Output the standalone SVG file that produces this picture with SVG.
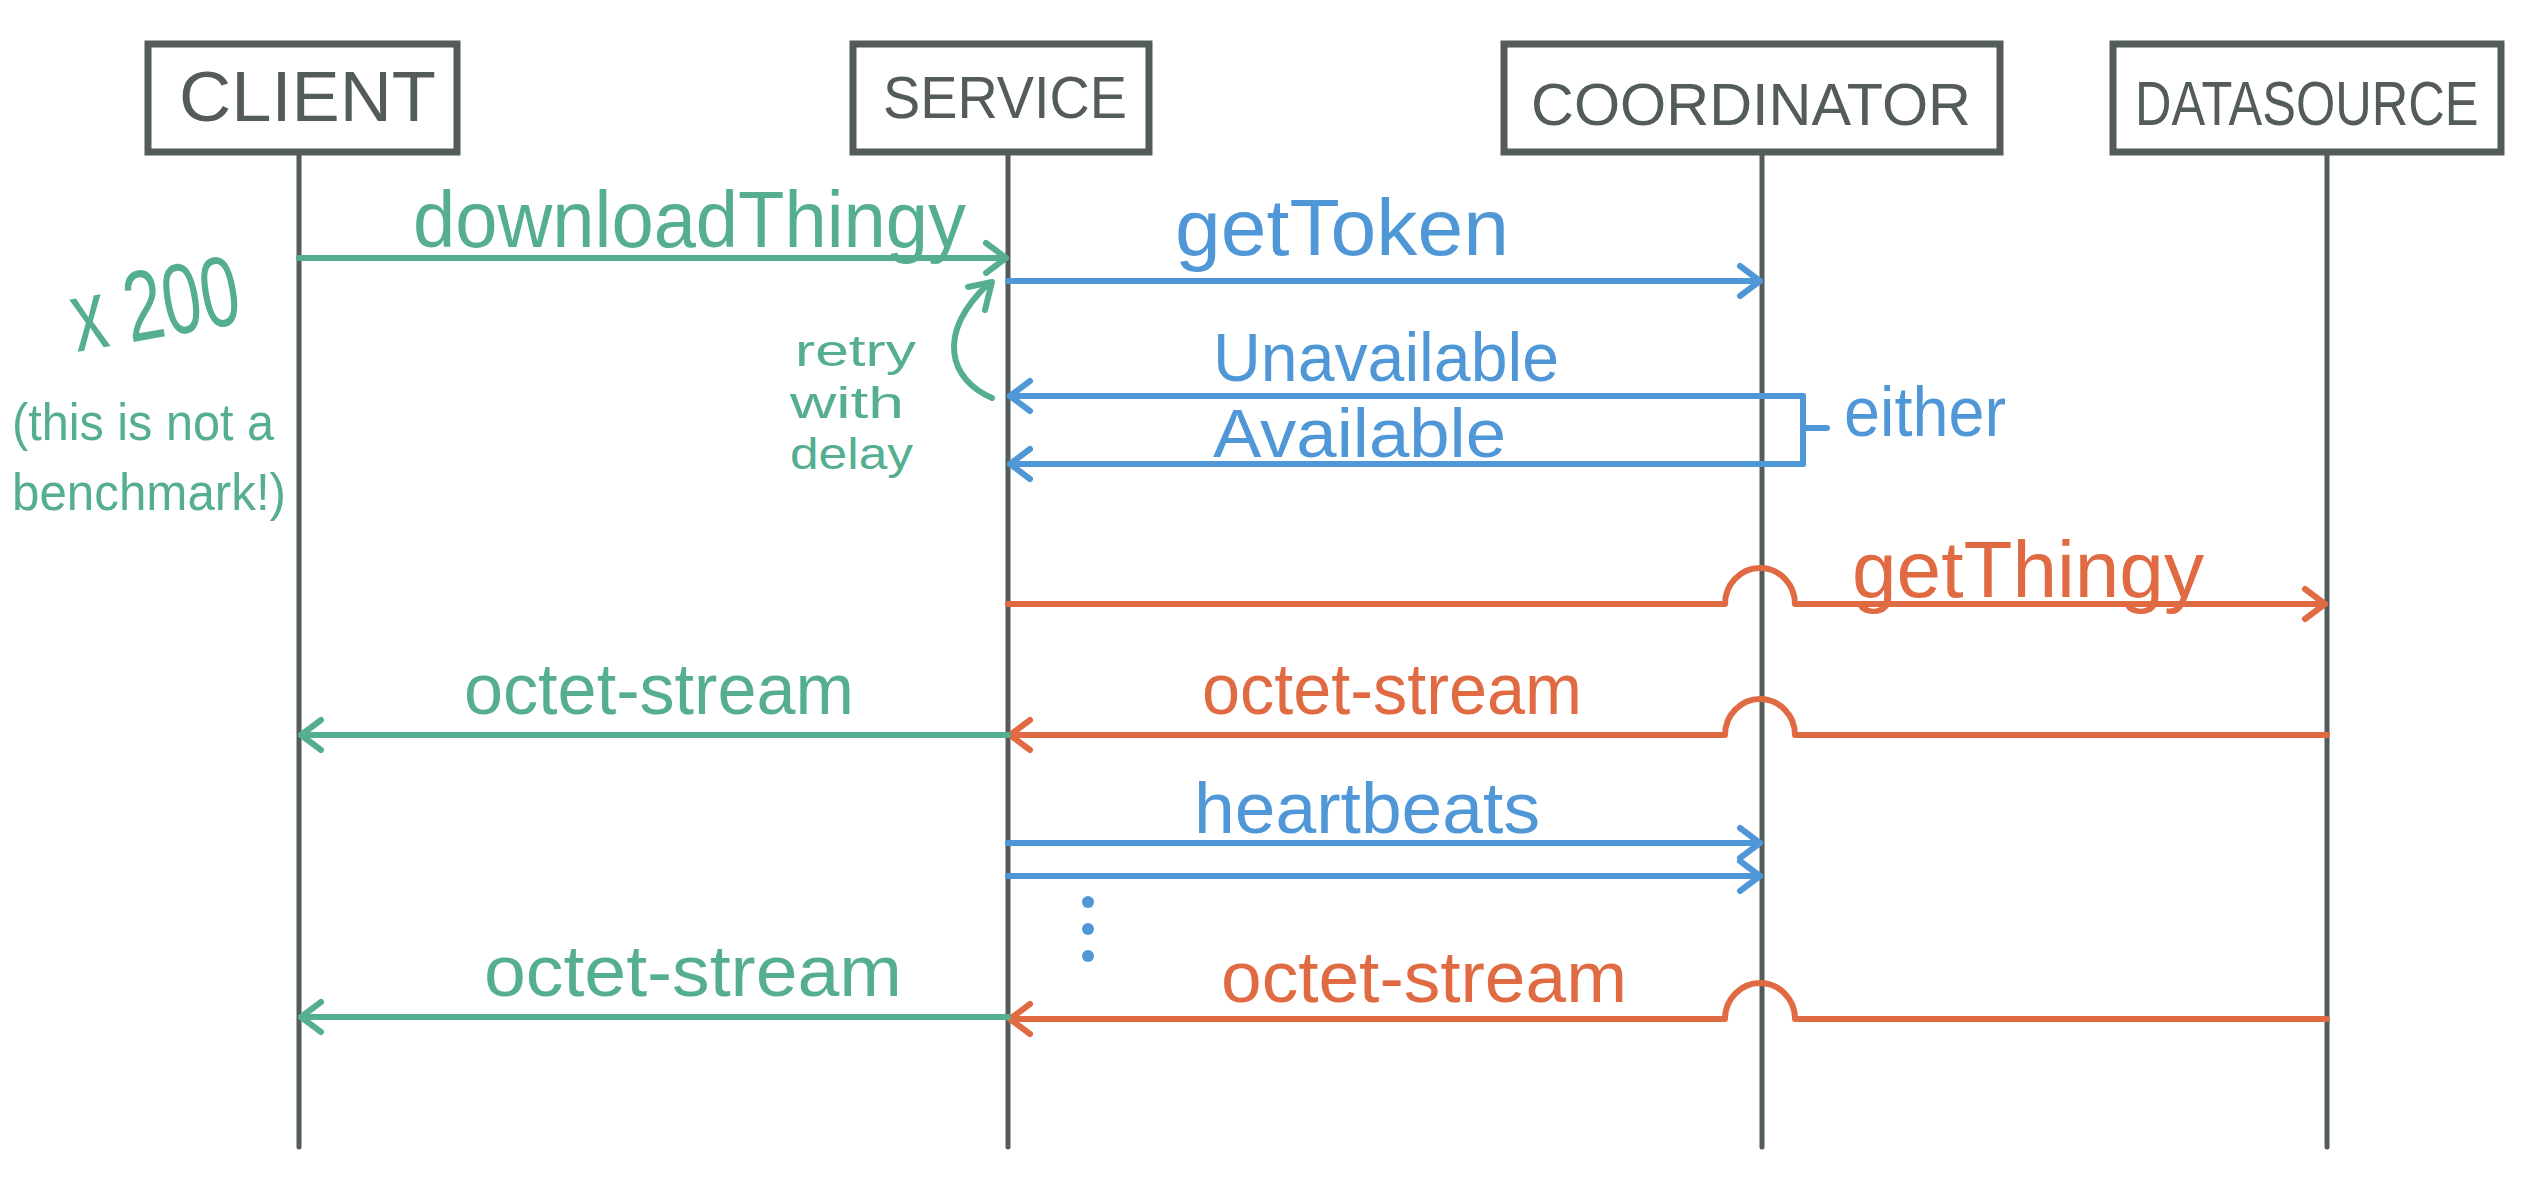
<svg xmlns="http://www.w3.org/2000/svg" width="2530" height="1180" viewBox="0 0 2530 1180">
<style>
.box{fill:#fff;stroke:#535b5b;stroke-width:7}
.life{stroke:#535b5b;stroke-width:5;fill:none;stroke-linecap:round}
.title{font-family:"Liberation Sans",sans-serif;fill:#535b5b}
.lbl{font-family:"Liberation Sans",sans-serif}
.g{fill:#55ae90}
.b{fill:#4f97d7}
.o{fill:#e06a42}
.cg{stroke:#55ae90;stroke-width:6;fill:none;stroke-linecap:round;stroke-linejoin:round}
.cb{stroke:#4f97d7;stroke-width:6;fill:none;stroke-linecap:round;stroke-linejoin:round}
.co{stroke:#e06a42;stroke-width:6;fill:none;stroke-linecap:round;stroke-linejoin:round}
</style>
<defs>
<marker id="ag" markerUnits="userSpaceOnUse" markerWidth="40" markerHeight="40" viewBox="-25 -20 30 40" refX="0" refY="0" orient="auto"><path d="M-20,-15 L0,0 L-20,15" fill="none" stroke="#55ae90" stroke-width="6" stroke-linecap="round" stroke-linejoin="round"/></marker>
<marker id="ab" markerUnits="userSpaceOnUse" markerWidth="40" markerHeight="40" viewBox="-25 -20 30 40" refX="0" refY="0" orient="auto"><path d="M-20,-15 L0,0 L-20,15" fill="none" stroke="#4f97d7" stroke-width="6" stroke-linecap="round" stroke-linejoin="round"/></marker>
<marker id="ao" markerUnits="userSpaceOnUse" markerWidth="40" markerHeight="40" viewBox="-25 -20 30 40" refX="0" refY="0" orient="auto"><path d="M-20,-15 L0,0 L-20,15" fill="none" stroke="#e06a42" stroke-width="6" stroke-linecap="round" stroke-linejoin="round"/></marker>
</defs>
<rect width="2530" height="1180" fill="#fff"/>

<g id="node-client">
<line class="life" x1="299" y1="155" x2="299" y2="1147"/>
<rect class="box" x="148" y="44" width="309" height="108"/>
<text class="title" x="179" y="121" font-size="70" textLength="257" lengthAdjust="spacingAndGlyphs">CLIENT</text>
</g>
<g id="node-service">
<line class="life" x1="1008" y1="155" x2="1008" y2="1147"/>
<rect class="box" x="853" y="44" width="296" height="108"/>
<text class="title" x="883" y="118" font-size="60" textLength="244" lengthAdjust="spacingAndGlyphs">SERVICE</text>
</g>
<g id="node-coordinator">
<line class="life" x1="1762" y1="155" x2="1762" y2="1147"/>
<rect class="box" x="1504" y="44" width="496" height="108"/>
<text class="title" x="1531" y="125" font-size="60" textLength="440" lengthAdjust="spacingAndGlyphs">COORDINATOR</text>
</g>
<g id="node-datasource">
<line class="life" x1="2327" y1="155" x2="2327" y2="1147"/>
<rect class="box" x="2113" y="44" width="388" height="108"/>
<text class="title" font-size="62" transform="translate(2135 125) scale(0.815 1)">DATASOURCE</text>
</g>

<g id="connectors">
<path class="cg" d="M299,258 H1006" marker-end="url(#ag)"/>
<path class="cb" d="M1008,281 H1760" marker-end="url(#ab)"/>
<path class="cb" d="M1827,428 H1803 M1803,396 V464"/>
<path class="cb" d="M1803,396 H1010" marker-end="url(#ab)"/>
<path class="cb" d="M1803,464 H1010" marker-end="url(#ab)"/>
<path class="cg" d="M992,398 C950,380 935,335 988,284"/>
<path class="cg" d="M968,287 L992,282 L985,310"/>
<path class="co" d="M1008,604 H1725 A35,36 0 0 1 1795,604 H2325" marker-end="url(#ao)"/>
<path class="co" d="M2327,735 H1795 A35,36 0 0 0 1725,735 H1010" marker-end="url(#ao)"/>
<path class="cg" d="M1008,735 H301" marker-end="url(#ag)"/>
<path class="cb" d="M1008,843 H1760" marker-end="url(#ab)"/>
<path class="cb" d="M1008,876 H1760" marker-end="url(#ab)"/>
<path class="co" d="M2327,1019 H1795 A35,36 0 0 0 1725,1019 H1010" marker-end="url(#ao)"/>
<path class="cg" d="M1008,1017 H301" marker-end="url(#ag)"/>
</g>

<g id="labels">
<text class="lbl g" x="413" y="247" font-size="80" textLength="553" lengthAdjust="spacingAndGlyphs">downloadThingy</text>
<text class="lbl b" x="1175" y="255" font-size="80" textLength="334" lengthAdjust="spacingAndGlyphs">getToken</text>
<text class="lbl b" x="1213" y="381" font-size="68" textLength="346" lengthAdjust="spacingAndGlyphs">Unavailable</text>
<text class="lbl b" x="1213" y="457" font-size="68" textLength="293" lengthAdjust="spacingAndGlyphs">Available</text>
<text class="lbl b" x="1844" y="436" font-size="70" textLength="162" lengthAdjust="spacingAndGlyphs">either</text>
<text class="lbl g" x="795" y="366" font-size="44" textLength="121" lengthAdjust="spacingAndGlyphs">retry</text>
<text class="lbl g" x="790" y="418" font-size="44" textLength="114" lengthAdjust="spacingAndGlyphs">with</text>
<text class="lbl g" x="790" y="469" font-size="44" textLength="123" lengthAdjust="spacingAndGlyphs">delay</text>
<text class="lbl g" x="77" y="352" font-size="100" textLength="170" lengthAdjust="spacingAndGlyphs" transform="rotate(-10 77 352)">x 200</text>
<text class="lbl g" x="12" y="440" font-size="52" textLength="262" lengthAdjust="spacingAndGlyphs">(this is not a</text>
<text class="lbl g" x="12" y="510" font-size="52" textLength="274" lengthAdjust="spacingAndGlyphs">benchmark!)</text>
<text class="lbl o" x="1852" y="597" font-size="80" textLength="352" lengthAdjust="spacingAndGlyphs">getThingy</text>
<text class="lbl o" x="1202" y="714" font-size="72" textLength="380" lengthAdjust="spacingAndGlyphs">octet-stream</text>
<text class="lbl g" x="464" y="714" font-size="72" textLength="390" lengthAdjust="spacingAndGlyphs">octet-stream</text>
<text class="lbl b" x="1194" y="833" font-size="72" textLength="346" lengthAdjust="spacingAndGlyphs">heartbeats</text>
<text class="lbl o" x="1221" y="1002" font-size="72" textLength="406" lengthAdjust="spacingAndGlyphs">octet-stream</text>
<text class="lbl g" x="484" y="996" font-size="72" textLength="418" lengthAdjust="spacingAndGlyphs">octet-stream</text>
</g>

<g id="ellipsis" fill="#4f97d7">
<circle cx="1088" cy="902" r="6"/>
<circle cx="1088" cy="929" r="6"/>
<circle cx="1088" cy="956" r="6"/>
</g>
</svg>
